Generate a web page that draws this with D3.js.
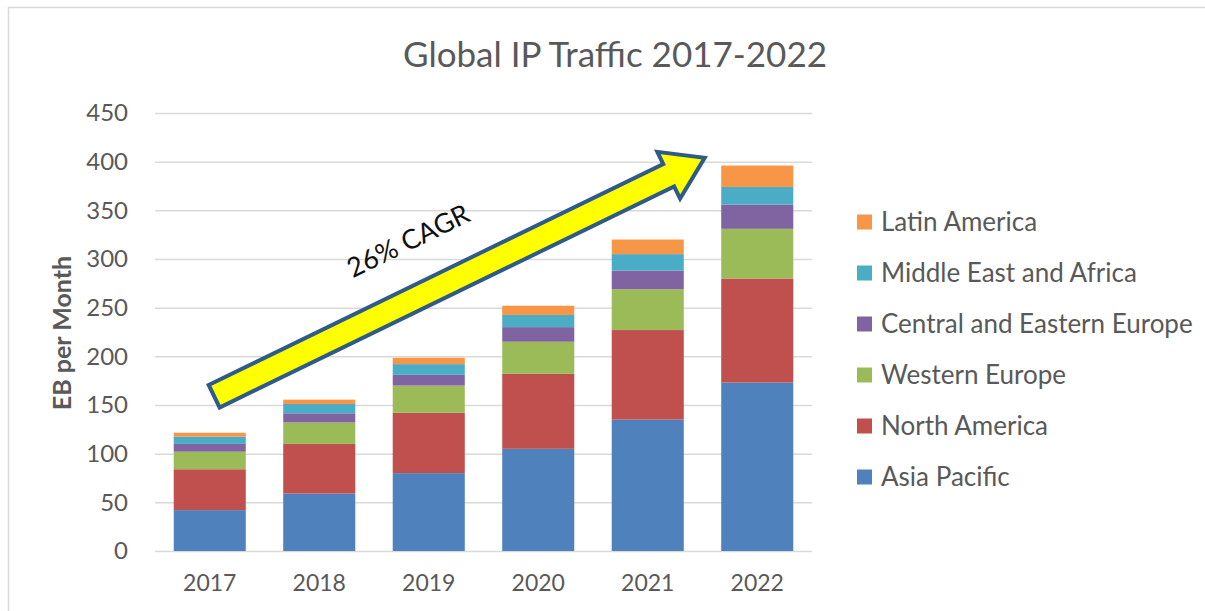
<!DOCTYPE html>
<html>
<head>
<meta charset="utf-8">
<script src="https://cdn.jsdelivr.net/npm/d3@7"></script>
<style>
  html, body { margin: 0; padding: 0; background: #fff; }
  svg { display: block; font-family: Lato, "Open Sans", sans-serif; }
</style>
</head>
<body>
<svg id="chart" width="1205" height="611"></svg>
<script>
// ---- Data (EB per month) ----
const years = ["2017", "2018", "2019", "2020", "2021", "2022"];
const regions = ["Asia Pacific", "North America", "Western Europe", "Central and Eastern Europe", "Middle East and Africa", "Latin America"];
const asiaPacific      = [42, 59, 80, 105, 135, 173];
const northAmerica     = [42, 51, 62, 77, 92, 107];
const westernEurope    = [18, 22, 28, 33, 42, 51];
const centralEastEurope= [8, 9.5, 11, 15, 19, 25];
const middleEastAfrica = [7.5, 9.5, 11, 12.5, 17, 18];
const latinAmerica     = [4, 4.5, 6.5, 9.5, 15, 22];
const yTicks = [0, 50, 100, 150, 200, 250, 300, 350, 400, 450];
const colors = ["#4F81BD", "#C0504D", "#9BBB59", "#8064A2", "#4BACC6", "#F79646"];
const title = "Global IP Traffic 2017-2022";
const yTitle = "EB per Month";
const annotation = "26% CAGR";
// arrow annotation anchors: [category index, value]
const arrowTail = [0.04, 159];
const arrowTip = [4.52, 404];

const seriesArrays = [asiaPacific, northAmerica, westernEurope, centralEastEurope, middleEastAfrica, latinAmerica];
const table = years.map((y, i) => {
  const row = { year: y };
  regions.forEach((r, k) => row[r] = seriesArrays[k][i]);
  return row;
});

const svg = d3.select("#chart");
const textColor = "#595959";

// frame
svg.append("line").attr("x1", 8.5).attr("x2", 8.5).attr("y1", 7).attr("y2", 611)
  .attr("stroke", "#d9d9d9").attr("stroke-width", 1.5);
svg.append("line").attr("x1", 8).attr("x2", 1205).attr("y1", 7.5).attr("y2", 7.5)
  .attr("stroke", "#d9d9d9").attr("stroke-width", 1.5);

const plotLeft = 155, plotRight = 812, plotTop = 113, plotBottom = 551;

const x = d3.scaleBand().domain(years).range([plotLeft, plotRight])
  .paddingInner(0.342).paddingOuter(0.171);
const y = d3.scaleLinear().domain([0, 450]).range([plotBottom, plotTop]);
const xi = d3.scaleLinear().domain([0, 1])
  .range([x(years[0]) + x.bandwidth() / 2, x(years[1]) + x.bandwidth() / 2]);

// gridlines
const yAxis = d3.axisLeft(y).tickValues(yTicks).tickSize(-(plotRight - plotLeft)).tickPadding(27);
const gy = svg.append("g").attr("transform", `translate(${plotLeft},0)`).call(yAxis);
gy.select(".domain").remove();
gy.selectAll(".tick line").attr("stroke", "#d9d9d9").attr("stroke-width", 1.5);
gy.selectAll(".tick text").attr("fill", textColor).attr("font-size", 24).attr("font-family", "Lato");

// stacked bars
const stack = d3.stack().keys(regions);
const stacked = stack(table);
svg.append("g").selectAll("g").data(stacked).join("g")
  .attr("fill", (d, i) => colors[i])
  .selectAll("rect").data(d => d).join("rect")
  .attr("x", d => x(d.data.year))
  .attr("width", x.bandwidth())
  .attr("y", d => y(d[1]))
  .attr("height", d => y(d[0]) - y(d[1]));

// x axis labels
const xAxis = d3.axisBottom(x).tickSize(0).tickPadding(24);
const gx = svg.append("g").attr("transform", `translate(0,${plotBottom})`).call(xAxis);
gx.select(".domain").remove();
gx.selectAll(".tick text").attr("fill", textColor).attr("font-size", 23).attr("font-family", "Lato");

// title
svg.append("text").attr("x", 615).attr("y", 67).attr("text-anchor", "middle")
  .attr("fill", textColor).attr("font-size", 35).text(title);

// y title
svg.append("text").attr("transform", "translate(71,333) rotate(-90)")
  .attr("text-anchor", "middle").attr("fill", textColor)
  .attr("font-size", 25).attr("font-weight", "bold").text(yTitle);

// arrow annotation
const tx = xi(arrowTail[0]), ty = y(arrowTail[1]);
const px = xi(arrowTip[0]), py = y(arrowTip[1]);
const L = Math.hypot(px - tx, py - ty);
const ang = Math.atan2(py - ty, px - tx) * 180 / Math.PI;
const hw = 12.5, hh = 26, hl = 40;
const pts = [[0, -hw], [L - hl, -hw], [L - hl, -hh], [L, 0], [L - hl, hh], [L - hl, hw], [0, hw]];
svg.append("polygon")
  .attr("transform", `translate(${tx},${ty}) rotate(${ang})`)
  .attr("points", pts.map(p => p.join(",")).join(" "))
  .attr("fill", "#FFFF00").attr("stroke", "#2E5B8A").attr("stroke-width", 4)
  .attr("stroke-linejoin", "miter");

svg.append("text")
  .attr("transform", `translate(${xi(1.85)},${y(310)}) rotate(${ang})`)
  .attr("text-anchor", "middle").attr("fill", "#111")
  .attr("font-size", 27).text(annotation);

// legend (reverse order)
const legendItems = regions.map((r, i) => ({ name: r, color: colors[i] })).reverse();
const lg = svg.append("g").attr("transform", "translate(857,0)");
const li = lg.selectAll("g").data(legendItems).join("g")
  .attr("transform", (d, i) => `translate(0,${222 + i * 51})`);
li.append("rect").attr("x", 0).attr("y", -7.5).attr("width", 15).attr("height", 15)
  .attr("fill", d => d.color);
li.append("text").attr("x", 24).attr("y", 9).attr("fill", textColor)
  .attr("font-size", 26).text(d => d.name);
</script>
</body>
</html>
